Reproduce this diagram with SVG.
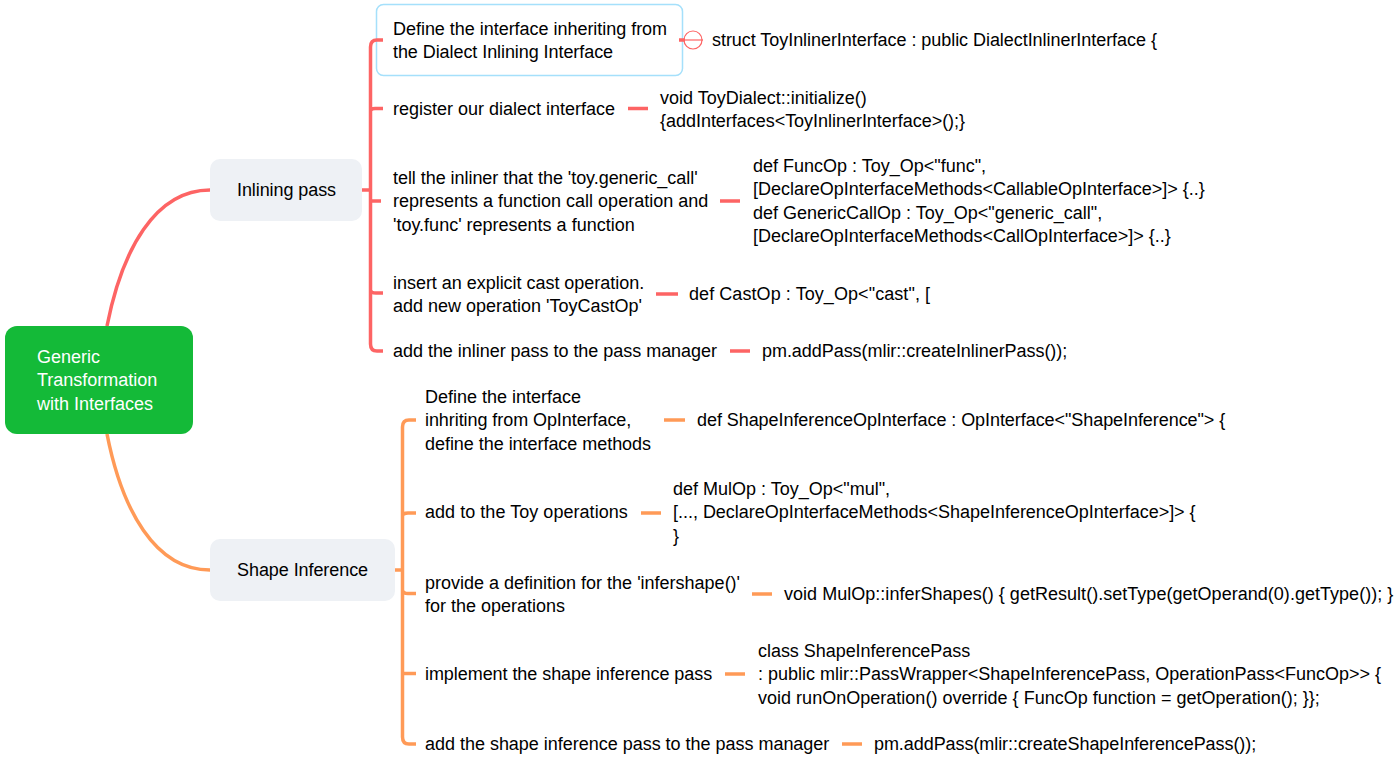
<svg xmlns="http://www.w3.org/2000/svg" width="1395" height="763" viewBox="0 0 1395 763">
<style>
text{font-family:"Liberation Sans",Arial,sans-serif;font-size:18px;fill:#000}
.w{fill:#fff}
.r{fill:none;stroke:#fd6464;stroke-width:3.5}
.o{fill:none;stroke:#ff9a57;stroke-width:3.5}
.sub{fill:#eef1f5}
</style>
<rect width="1395" height="763" fill="#fff"/>
<g id="root"><rect x="5" y="326" width="188" height="108" rx="12" fill="#14ba38"/>
<text class="w" x="37" y="363" style="fill:#fff">Generic</text><text x="37" y="386" style="fill:#fff">Transformation</text><text x="37" y="410" style="fill:#fff">with Interfaces</text></g>
<g id="inlining"><rect class="sub" x="210" y="159" width="152" height="62" rx="10"/><text x="237" y="196" letter-spacing="-0.08">Inlining pass</text></g>
<g id="shape"><rect class="sub" x="210" y="539" width="185" height="62" rx="10"/><text x="237" y="576" letter-spacing="-0.07">Shape Inference</text></g>
<g id="n1"><rect x="376.500" y="4.500" width="306" height="71" rx="7" fill="#fff" stroke="#a5e0fb" stroke-width="1.500"/>
<text x="393" y="35" letter-spacing="-0.03">Define the interface inheriting from</text><text x="393" y="58" letter-spacing="-0.07">the Dialect Inlining Interface</text></g>
<g id="n1m"><circle cx="693" cy="40" r="9" fill="none" stroke="#fd6464" stroke-width="1.200"/><path d="M683 40H703" stroke="#fd6464" stroke-width="1.200"/></g>
<g id="n1c"><text x="712" y="46" letter-spacing="-0.05">struct ToyInlinerInterface : public DialectInlinerInterface {</text></g>
<g id="n2"><text x="393" y="115">register our dialect interface</text></g>
<g id="n2c"><text x="660" y="104">void ToyDialect::initialize()</text><text x="660" y="127" letter-spacing="-0.03">{addInterfaces&lt;ToyInlinerInterface&gt;();}</text></g>
<g id="n3"><text x="393" y="184" letter-spacing="-0.05">tell the inliner that the 'toy.generic_call'</text><text x="393" y="207">represents a function call operation and</text><text x="393" y="231">'toy.func' represents a function</text></g>
<g id="n3c"><text x="753" y="172">def FuncOp : Toy_Op&lt;"func",</text><text x="753" y="195" letter-spacing="-0.02">[DeclareOpInterfaceMethods&lt;CallableOpInterface&gt;]&gt; {..}</text><text x="753" y="219">def GenericCallOp : Toy_Op&lt;"generic_call",</text><text x="753" y="242" letter-spacing="-0.02">[DeclareOpInterfaceMethods&lt;CallOpInterface&gt;]&gt; {..}</text></g>
<g id="n4"><text x="393" y="289" letter-spacing="-0.03">insert an explicit cast operation.</text><text x="393" y="312">add new operation 'ToyCastOp'</text></g>
<g id="n4c"><text x="689" y="300" letter-spacing="0.07">def CastOp : Toy_Op&lt;"cast", [</text></g>
<g id="n5"><text x="393" y="357" letter-spacing="-0.03">add the inliner pass to the pass manager</text></g>
<g id="n5c"><text x="762" y="357" letter-spacing="-0.05">pm.addPass(mlir::createInlinerPass());</text></g>
<g id="s1"><text x="425" y="403">Define the interface</text><text x="425" y="426" letter-spacing="-0.07">inhriting from OpInterface,</text><text x="425" y="450" letter-spacing="-0.04">define the interface methods</text></g>
<g id="s1c"><text x="697" y="426" letter-spacing="-0.063">def ShapeInferenceOpInterface : OpInterface&lt;"ShapeInference"&gt; {</text></g>
<g id="s2"><text x="425" y="518" letter-spacing="0.04">add to the Toy operations</text></g>
<g id="s2c"><text x="673" y="495">def MulOp : Toy_Op&lt;"mul",</text><text x="673" y="518" letter-spacing="-0.02">[..., DeclareOpInterfaceMethods&lt;ShapeInferenceOpInterface&gt;]&gt; {</text><text x="673" y="542">}</text></g>
<g id="s3"><text x="425" y="589">provide a definition for the 'infershape()'</text><text x="425" y="612">for the operations</text></g>
<g id="s3c"><text x="784" y="600" letter-spacing="0.027">void MulOp::inferShapes() { getResult().setType(getOperand(0).getType()); }</text></g>
<g id="s4"><text x="425" y="680" letter-spacing="-0.06">implement the shape inference pass</text></g>
<g id="s4c"><text x="758" y="657" letter-spacing="-0.04">class ShapeInferencePass</text><text x="758" y="680">: public mlir::PassWrapper&lt;ShapeInferencePass, OperationPass&lt;FuncOp&gt;&gt; {</text><text x="758" y="704" letter-spacing="0.015">void runOnOperation() override { FuncOp function = getOperation(); }};</text></g>
<g id="s5"><text x="425" y="750" letter-spacing="-0.02">add the shape inference pass to the pass manager</text></g>
<g id="s5c"><text x="874" y="750" letter-spacing="-0.067">pm.addPass(mlir::createShapeInferencePass());</text></g>
<g id="connectors">
<path class="r" d="M107 326C122 250 155 190 210 190"/>
<path class="o" d="M107 434C122 510 155 570 210 570"/>
<path class="r" d="M362 190H370M383 40H377Q370.500 40 370.500 47V344Q370.500 351 377 351H383M370.500 111Q371 108.500 375 108.500H383M370.500 201H381M370.500 290Q371 293 376 293H383M679 40H685M628 108.500H648M720 201H740M656 294H678M730 351H750"/>
<path class="o" d="M395 570H402M416 420H409Q402.500 420 402.500 427V737Q402.500 744 409 744H416M402.500 516Q403 513 408 513H416M402.500 590Q403 593.500 408 593.500H416M402.500 673.500H416M664 420H685M641 513H661M752 594H772M725 674H745M842 744H862"/>
</g>
</svg>
